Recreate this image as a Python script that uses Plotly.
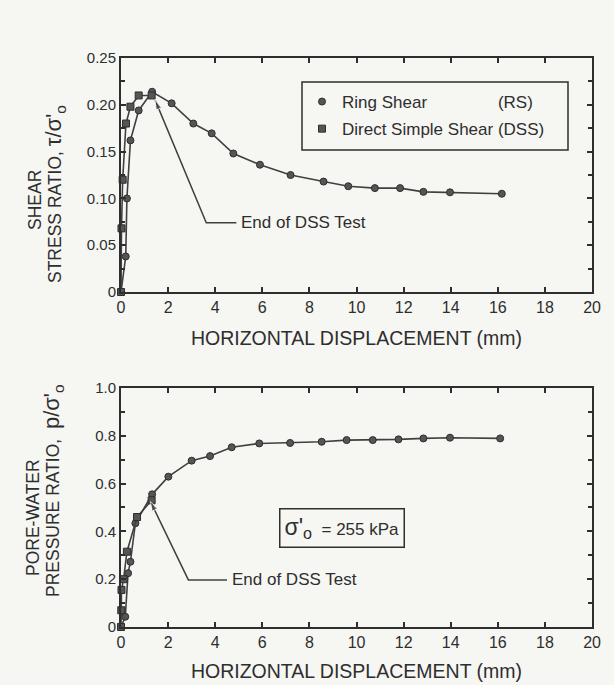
import plotly.graph_objects as go

# Shear stress ratio vs horizontal displacement
rs_tau_x = [0, 0.2, 0.25, 0.4, 0.75, 1.32, 2.15, 3.07, 3.85, 4.77, 5.9, 7.2, 8.6, 9.65, 10.78, 11.85, 12.84, 13.97, 16.17]
rs_tau_y = [0, 0.038, 0.10, 0.162, 0.194, 0.214, 0.2016, 0.180, 0.1695, 0.148, 0.136, 0.125, 0.118, 0.113, 0.111, 0.111, 0.107, 0.1065, 0.105]
dss_tau_x = [0, 0.02, 0.07, 0.21, 0.4, 0.75, 1.3]
dss_tau_y = [0, 0.068, 0.12, 0.18, 0.198, 0.21, 0.21]

# Pore-water pressure ratio vs horizontal displacement
rs_pw_x = [0, 0.18, 0.3, 0.4, 0.61, 1.32, 2.01, 3.0, 3.78, 4.7, 5.87, 7.18, 8.52, 9.58, 10.69, 11.78, 12.84, 13.97, 16.1]
rs_pw_y = [0, 0.043, 0.225, 0.273, 0.434, 0.555, 0.629, 0.696, 0.715, 0.752, 0.768, 0.77, 0.775, 0.782, 0.782, 0.785, 0.789, 0.792, 0.789]
dss_pw_x = [0, 0.01, 0.02, 0.11, 0.25, 0.68, 1.3]
dss_pw_y = [0, 0.07, 0.155, 0.2, 0.315, 0.46, 0.53]

x_ticks = [0, 2, 4, 6, 8, 10, 12, 14, 16, 18, 20]
tau_ticks = [0, 0.05, 0.10, 0.15, 0.20, 0.25]
tau_labels = ["0", "0.05", "0.10", "0.15", "0.20", "0.25"]
pw_ticks = [0, 0.2, 0.4, 0.6, 0.8, 1.0]
pw_labels = ["0", "0.2", "0.4", "0.6", "0.8", "1.0"]

INK = "#2e2e2e"
LINE = "#404040"
BG = "#f6f6f3"
FONT = "Liberation Sans, Arial, sans-serif"
NB = "\u00a0"

fig = go.Figure()


def add_series(xs, ys, xa, ya, symbol, name, legend, group):
    fig.add_trace(go.Scatter(x=xs, y=ys, xaxis=xa, yaxis=ya, mode="lines",
                             line=dict(color=LINE, width=1.6), showlegend=False,
                             hoverinfo="skip", cliponaxis=False))
    fig.add_trace(go.Scatter(x=xs, y=ys, xaxis=xa, yaxis=ya, mode="markers",
                             marker=dict(symbol=symbol, size=7, color="#555555",
                                         line=dict(color=INK, width=1)),
                             name=name, showlegend=legend, legendgroup=group,
                             cliponaxis=False))


add_series(rs_tau_x, rs_tau_y, "x", "y", "circle",
           "Ring Shear" + NB * 15 + "(RS)", True, "rs")
add_series(dss_tau_x, dss_tau_y, "x", "y", "square",
           "Direct Simple Shear (DSS)", True, "dss")
add_series(rs_pw_x, rs_pw_y, "x2", "y2", "circle", "Ring Shear", False, "rs")
add_series(dss_pw_x, dss_pw_y, "x2", "y2", "square", "Direct Simple Shear", False, "dss")

# "End of DSS Test" callouts: horizontal leader, elbow, arrow up to the end point
callouts = [
    ("x", "y", 1.45, 0.205, 3.62, 0.074, 4.9),
    ("x2", "y2", 1.25, 0.525, 2.86, 0.197, 4.5),
]
for xa, ya, tx, ty, ex, ey, lx in callouts:
    fig.add_trace(go.Scatter(x=[lx, ex, tx], y=[ey, ey, ty], xaxis=xa, yaxis=ya,
                             mode="lines+markers", line=dict(color=LINE, width=1.5),
                             marker=dict(symbol="arrow", angleref="previous",
                                         size=[0, 0, 10], color=LINE),
                             showlegend=False, hoverinfo="skip"))
    fig.add_annotation(xref=xa, yref=ya, x=lx + 0.12, y=ey, text="End of DSS Test",
                       xanchor="left", yanchor="middle", showarrow=False,
                       font=dict(size=17, color=INK))

axis_common = dict(showline=True, linewidth=2, linecolor=INK, mirror="ticks",
                   ticks="inside", ticklen=5, tickwidth=1.5, tickcolor=INK,
                   showgrid=False, zeroline=False, automargin=False)

fig.update_layout(
    width=614, height=685,
    margin=dict(l=0, r=0, t=0, b=0),
    paper_bgcolor=BG, plot_bgcolor=BG,
    font=dict(family=FONT, color=INK),
    xaxis=dict(domain=[0.1971, 0.9642], range=[0, 20], tickvals=x_ticks,
               tickfont=dict(size=16), anchor="y",
               title=dict(text="HORIZONTAL DISPLACEMENT (mm)", font=dict(size=19.5), standoff=16),
               **axis_common),
    yaxis=dict(domain=[0.5737, 0.9153], range=[0, 0.25], tickvals=tau_ticks,
               ticktext=tau_labels, tickfont=dict(size=15), anchor="x",
               minor=dict(dtick=0.025, ticks="inside", ticklen=4, tickcolor=INK),
               **axis_common),
    xaxis2=dict(domain=[0.1971, 0.9642], range=[0, 20], tickvals=x_ticks,
                tickfont=dict(size=16), anchor="y2",
                title=dict(text="HORIZONTAL DISPLACEMENT (mm)", font=dict(size=19.5), standoff=14),
                **axis_common),
    yaxis2=dict(domain=[0.0847, 0.4336], range=[0, 1.0], tickvals=pw_ticks,
                ticktext=pw_labels, tickfont=dict(size=15), anchor="x2",
                minor=dict(dtick=0.1, ticks="inside", ticklen=4, tickcolor=INK),
                **axis_common),
    legend=dict(x=302 / 614, y=1 - 84 / 685, xanchor="left", yanchor="top",
                bgcolor="rgba(0,0,0,0)", borderwidth=0,
                font=dict(size=17, color=INK), tracegroupgap=2,
                itemclick=False),
    showlegend=True,
)

# Frame around the legend entries
fig.add_shape(type="rect", xref="paper", yref="paper",
              x0=302 / 614, x1=568 / 614, y0=1 - 150 / 685, y1=1 - 82 / 685,
              line=dict(color=INK, width=1.5), fillcolor=BG, layer="below")

# Rotated y-axis titles, one annotation per line
ytitles = [
    ("SHEAR", 35, 200),
    ("STRESS RATIO, <span style='font-size:22px'>τ/σ'<sub>o</sub></span>", 55, 194),
    ("PORE-WATER", 33, 518),
    ("PRESSURE RATIO,  <span style='font-size:22px'>p/σ'<sub>o</sub></span>", 53, 491),
]
for txt, px, py in ytitles:
    fig.add_annotation(text=txt, xref="paper", yref="paper", x=px / 614, y=1 - py / 685,
                       xanchor="center", yanchor="middle", textangle=-90, showarrow=False,
                       font=dict(size=17.5, color=INK))

# Effective stress label box
fig.add_annotation(xref="x2", yref="y2", x=9.4, y=0.416,
                   text="<span style='font-size:23px'>σ'<sub>o</sub></span>" + NB * 2 + "= 255 kPa",
                   showarrow=False, bordercolor=INK, borderwidth=1.5, borderpad=4,
                   bgcolor=BG, font=dict(size=17, color=INK))

fig.write_html("out.html")
